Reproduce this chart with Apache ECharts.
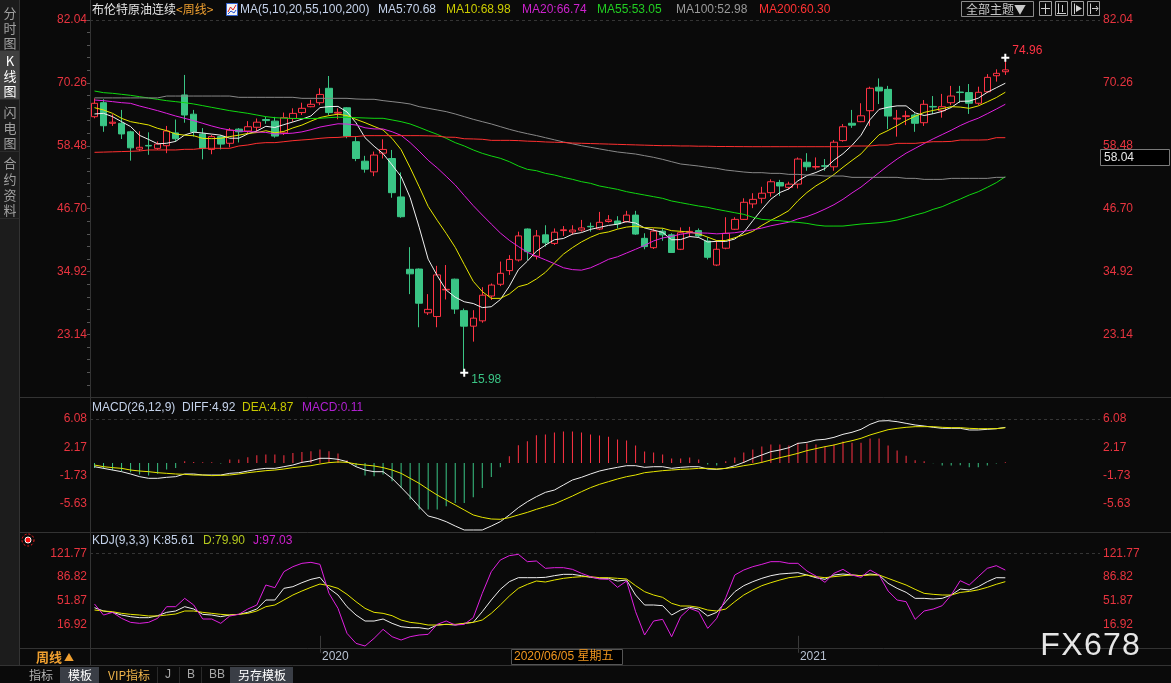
<!DOCTYPE html>
<html><head><meta charset="utf-8">
<script src="https://cdn.jsdelivr.net/npm/echarts@6/dist/echarts.min.js"></script>
<style>html,body{margin:0;padding:0;background:#0a0a0a;width:1171px;height:683px;overflow:hidden}#c{width:1171px;height:683px}</style>
</head><body><div id="c"></div><script>
const categories = ['2019-07-12','2019-07-19','2019-07-26','2019-08-02','2019-08-09','2019-08-16','2019-08-23','2019-08-30','2019-09-06','2019-09-13','2019-09-20','2019-09-27','2019-10-04','2019-10-11','2019-10-18','2019-10-25','2019-11-01','2019-11-08','2019-11-15','2019-11-22','2019-11-29','2019-12-06','2019-12-13','2019-12-20','2019-12-27',
'2020-01-03','2020-01-10','2020-01-17','2020-01-24','2020-01-31','2020-02-07','2020-02-14','2020-02-21','2020-02-28','2020-03-06','2020-03-13','2020-03-20','2020-03-27','2020-04-03','2020-04-10','2020-04-17','2020-04-24','2020-05-01','2020-05-08','2020-05-15','2020-05-22','2020-05-29','2020-06-05','2020-06-12','2020-06-19','2020-06-26','2020-07-03','2020-07-10','2020-07-17','2020-07-24','2020-07-31','2020-08-07','2020-08-14','2020-08-21','2020-08-28','2020-09-04','2020-09-11','2020-09-18','2020-09-25','2020-10-02','2020-10-09','2020-10-16','2020-10-23','2020-10-30','2020-11-06','2020-11-13','2020-11-20','2020-11-27','2020-12-04','2020-12-11','2020-12-18','2020-12-25','2020-12-31',
'2021-01-08','2021-01-15','2021-01-22','2021-01-29','2021-02-05','2021-02-12','2021-02-19','2021-02-26','2021-03-05','2021-03-12','2021-03-19','2021-03-26','2021-04-02','2021-04-09','2021-04-16','2021-04-23','2021-04-30','2021-05-07','2021-05-14','2021-05-21','2021-05-28','2021-06-04','2021-06-11','2021-06-18'];

const opens = [63.93,66.55,62.7,62.7,61.1,57.85,58.55,58.0,58.5,60.9,
68.0,64.4,60.7,57.8,60.2,58.95,61.6,61.25,61.95,63.4,
63.1,60.9,63.6,64.7,65.8,66.55,69.25,64.6,65.6,59.25,
55.6,53.6,57.1,56.1,48.9,35.35,35.4,27.2,26.5,31.5,
33.5,27.6,24.7,25.7,30.35,32.55,35.1,37.1,42.9,37.8,
41.8,40.2,42.6,42.35,42.7,43.4,42.9,44.3,44.4,44.3,
45.5,41.15,39.4,42.5,41.8,39.1,42.3,42.6,40.65,36.15,
39.3,42.85,44.7,47.6,48.65,49.7,51.6,50.7,51.3,55.4,
54.5,54.75,54.55,59.45,62.7,63.0,65.05,69.45,69.05,63.5,
63.95,64.25,62.8,65.85,65.05,66.55,68.55,68.45,66.45,68.6,
71.6,72.35];
const closes = [66.44,62.24,62.9,60.7,58.1,58.2,58.45,58.8,61.25,59.8,
64.25,61.1,58.0,60.2,58.8,61.4,61.1,62.05,62.9,63.2,
60.3,63.75,64.55,65.5,66.25,68.1,64.7,64.75,60.3,56.1,
54.1,56.75,57.8,49.7,45.2,34.5,29.0,27.85,34.3,31.6,
27.9,24.7,26.2,30.5,32.4,34.6,37.2,41.6,38.65,41.6,
40.3,42.3,42.75,42.7,43.1,43.3,44.15,44.6,43.85,45.5,
41.95,39.6,42.5,41.8,38.5,42.2,42.45,41.6,37.6,39.1,
42.1,44.7,47.9,48.45,49.6,51.75,50.95,51.3,56.0,54.55,
54.6,54.65,59.15,62.05,62.35,64.1,69.25,68.75,64.05,63.65,
64.1,62.7,66.25,65.75,65.8,67.8,68.45,66.45,68.5,71.3,
72.05,72.7];
const highs = [67.37,67.2,64.4,65.2,61.3,61.2,61.0,59.3,62.2,63.4,
71.75,65.2,61.8,60.5,60.5,61.8,61.8,63.1,63.6,63.9,
63.9,64.7,65.5,66.55,67.1,69.25,71.55,65.5,65.7,60.2,
56.6,57.4,59.7,57.7,53.5,39.5,35.5,30.7,36.0,36.15,
33.6,28.0,27.7,32.0,32.7,36.8,38.0,42.4,43.0,42.7,
43.6,43.0,43.45,43.6,44.6,44.1,46.1,45.5,45.3,46.3,
46.3,42.1,43.0,43.0,42.1,43.2,43.3,43.0,41.35,40.8,
45.1,45.1,48.65,49.6,50.8,52.2,52.1,51.75,56.3,57.1,
56.3,56.0,59.55,62.55,65.2,66.45,69.55,71.1,69.7,65.2,
65.05,64.55,67.05,67.8,68.2,69.7,69.7,70.05,69.55,71.9,
72.8,74.96];
const lows = [63.63,61.1,62.2,59.75,55.7,57.5,56.8,57.7,57.1,59.25,
62.8,60.2,55.95,56.9,57.8,58.2,59.1,60.7,61.1,62.6,
60.0,60.5,63.0,64.25,65.7,66.1,64.25,63.45,59.9,55.6,
53.45,52.8,56.1,48.75,45.0,30.7,24.5,26.8,24.5,29.7,
27.0,15.98,21.8,25.35,29.6,32.2,34.3,36.8,37.1,37.2,
39.6,39.9,41.6,41.8,42.4,42.4,42.7,44.1,43.0,44.1,
41.8,39.1,39.15,40.7,38.4,38.95,41.35,41.3,37.2,35.95,
39.1,42.7,44.6,46.8,47.7,48.95,49.1,50.3,50.5,53.8,
54.05,53.8,53.8,59.25,61.85,62.9,62.2,66.3,61.6,60.2,
62.35,61.1,62.2,64.45,63.75,66.1,66.55,64.45,66.1,68.4,
70.5,71.75];

const ma5 = [64.44,64.56,63.94,63.00,62.08,60.43,59.67,58.85,58.96,59.30,
60.51,61.04,60.88,60.67,60.47,59.90,59.90,60.71,61.25,62.13,
61.91,62.44,62.94,63.46,64.07,65.63,65.82,65.86,64.82,62.79,
59.99,58.40,57.01,54.89,52.71,48.79,43.24,37.25,34.17,31.45,
30.13,29.27,28.94,28.18,28.34,29.68,32.18,35.26,36.89,38.73,
39.87,40.89,41.12,41.93,42.23,42.83,43.20,43.57,43.80,44.28,
44.01,43.10,42.68,42.27,40.87,40.92,41.49,41.31,40.47,40.59,
40.57,41.02,42.28,44.45,46.55,48.48,49.73,50.41,51.92,52.91,
53.48,54.22,55.79,57.00,58.56,60.46,63.38,65.30,65.70,65.96,
65.96,64.65,64.15,64.49,64.92,65.66,66.81,66.85,67.40,68.50,
69.35,70.20];
const ma10 = [65.62,65.19,64.56,63.62,63.00,62.69,62.38,61.75,61.32,60.69,
60.47,60.36,59.87,59.82,59.89,60.21,60.47,60.80,60.96,61.30,
60.91,61.17,61.83,62.36,63.10,63.77,64.13,64.40,64.14,63.43,
62.81,62.11,61.44,59.86,57.75,54.39,50.82,47.13,44.53,42.08,
39.46,36.26,33.10,31.18,29.90,29.91,30.73,32.10,32.54,33.54,
34.78,36.54,38.19,39.41,40.48,41.35,42.05,42.35,42.87,43.26,
43.42,43.15,43.13,43.04,42.58,42.47,42.30,42.00,41.37,40.73,
40.75,41.26,41.80,42.46,43.57,44.53,45.38,46.35,48.19,49.73,
50.98,51.98,53.10,54.46,55.74,56.97,58.80,60.55,61.35,62.26,
63.21,64.02,64.73,65.10,65.44,65.81,65.73,65.50,65.95,66.71,
67.51,68.51];
const ma20 = [67.06,66.93,66.75,66.56,66.43,65.93,65.50,65.06,64.56,64.06,
63.62,63.19,62.69,62.19,61.75,61.44,61.25,61.15,61.05,60.99,
60.69,60.76,60.85,61.09,61.49,61.99,62.30,62.60,62.55,62.37,
61.86,61.64,61.63,61.11,60.43,59.08,57.48,55.77,54.34,52.76,
51.14,49.18,47.27,45.52,43.82,42.15,40.77,39.62,38.53,37.81,
37.12,36.40,35.64,35.29,35.19,35.63,36.39,37.22,37.70,38.40,
39.10,39.84,40.66,41.22,41.53,41.91,42.17,42.17,42.12,41.99,
42.08,42.20,42.46,42.75,43.07,43.50,43.84,44.17,44.78,45.23,
45.86,46.62,47.45,48.46,49.65,50.75,52.09,53.45,54.77,56.00,
57.10,58.00,58.91,59.78,60.59,61.39,62.27,63.02,63.65,64.49,
65.36,66.26];
const ma55 = [68.74,68.43,68.31,68.12,67.93,67.68,67.43,67.18,66.93,66.75,
66.56,66.31,66.00,65.68,65.37,65.06,64.81,64.56,64.25,63.94,
63.75,63.65,63.60,63.60,63.60,63.63,63.75,63.85,63.80,63.75,
63.69,63.63,63.63,63.32,63.00,62.57,61.94,61.26,60.63,59.88,
59.07,58.45,57.70,57.07,56.57,56.14,55.51,54.70,54.07,53.82,
53.32,53.01,52.57,52.20,51.76,51.45,50.95,50.64,50.32,49.89,
49.57,49.26,48.95,48.64,48.14,47.83,47.51,47.20,46.95,46.58,
46.27,45.95,45.64,45.10,44.70,44.58,44.45,44.27,44.14,43.95,
43.64,43.45,43.45,43.45,43.64,43.83,43.95,44.08,44.27,44.58,
45.02,45.51,45.95,46.58,47.08,47.82,48.51,49.26,49.88,50.70,
51.57,52.69];
const ma100 = [67.45,67.45,67.45,67.45,67.45,67.45,67.45,67.45,67.80,67.80,
67.80,67.80,67.80,67.80,67.80,67.80,67.56,67.56,67.56,67.56,
67.56,67.56,67.56,67.37,67.37,67.37,67.37,67.37,67.37,67.25,
67.19,67.19,66.94,66.75,66.56,66.31,65.81,65.50,65.19,64.88,
64.44,63.94,63.44,63.00,62.57,62.07,61.57,61.13,60.75,60.40,
60.00,59.60,59.20,58.85,58.50,58.20,57.90,57.60,57.32,57.13,
56.94,56.63,56.32,55.94,55.50,55.07,54.88,54.69,54.44,54.26,
53.94,53.76,53.57,53.44,53.45,53.32,53.32,53.13,53.13,53.00,
53.00,52.82,52.82,52.82,52.57,52.57,52.57,52.57,52.57,52.57,
52.38,52.38,52.19,52.19,52.19,52.38,52.38,52.38,52.38,52.38,
52.57,52.57];
const ma200 = [57.26,57.30,57.35,57.40,57.45,57.51,57.70,57.70,57.70,57.70,
57.82,57.82,58.01,58.01,58.01,58.01,58.44,58.63,58.94,59.07,
59.07,59.25,59.44,59.57,59.69,59.88,60.01,60.05,60.20,60.20,
60.38,60.38,60.38,60.38,60.38,60.38,60.38,60.35,60.30,60.10,
60.07,59.80,59.76,59.70,59.50,59.50,59.50,59.45,59.35,59.30,
59.20,59.15,59.10,59.00,58.95,58.90,58.85,58.80,58.75,58.70,
58.65,58.60,58.55,58.50,58.50,58.45,58.45,58.40,58.40,58.35,
58.35,58.33,58.32,58.31,58.31,58.31,58.31,58.31,58.31,58.31,
58.31,58.31,58.31,58.31,58.44,58.44,58.44,58.62,58.62,58.94,
58.94,58.94,59.10,59.25,59.25,59.30,59.56,59.56,59.56,59.60,
60.00,60.00];

const macdHist = [-0.69,-0.83,-1.01,-1.15,-1.29,-1.61,-1.75,-1.48,-0.92,-0.69,
0.23,0.14,0.09,0.09,-0.09,0.46,0.46,0.78,1.06,1.15,
1.15,1.06,1.38,1.52,1.61,1.85,1.61,1.29,0.37,-0.46,
-1.75,-1.85,-1.61,-2.54,-3.46,-5.07,-6.46,-6.46,-6.46,-6.00,
-5.54,-5.54,-4.75,-3.46,-1.94,-0.60,0.92,2.44,3.00,3.83,
3.92,4.20,4.34,4.34,4.20,3.92,3.78,3.64,3.23,3.09,
2.40,1.57,1.43,1.15,0.60,0.60,0.74,0.46,-0.23,-0.37,
0.23,0.74,1.43,1.85,2.26,2.54,2.54,2.40,2.81,2.68,
2.54,2.26,2.54,2.95,2.81,2.81,3.37,3.37,2.40,1.71,
1.01,0.37,0.23,-0.05,-0.37,-0.37,-0.32,-0.60,-0.60,-0.37,
-0.09,0.11];
const diff = [-0.52,-0.75,-0.98,-1.21,-1.53,-1.90,-2.13,-2.13,-1.99,-1.90,
-1.53,-1.53,-1.67,-1.67,-1.67,-1.44,-1.35,-1.12,-0.89,-0.75,
-0.75,-0.52,-0.29,0.08,0.27,0.64,0.64,0.50,0.18,-0.52,
-0.98,-1.21,-1.21,-2.13,-3.38,-4.67,-6.05,-7.34,-7.67,-8.13,
-8.73,-9.28,-9.28,-9.28,-8.73,-8.13,-7.20,-6.19,-5.36,-4.67,
-4.07,-3.75,-3.05,-2.36,-1.99,-1.53,-1.12,-0.84,-0.61,-0.38,
-0.38,-0.61,-0.52,-0.52,-0.75,-0.61,-0.52,-0.52,-0.84,-0.89,
-0.75,-0.38,0.08,0.64,1.10,1.56,1.79,2.11,2.71,2.85,
3.17,3.27,3.54,3.96,4.24,4.65,5.34,5.80,5.85,5.71,
5.48,5.25,5.11,4.93,4.79,4.79,4.79,4.56,4.56,4.65,
4.74,4.92];
const dea = [-0.29,-0.52,-0.65,-0.75,-0.98,-1.12,-1.21,-1.35,-1.44,-1.53,
-1.58,-1.67,-1.67,-1.76,-1.72,-1.67,-1.53,-1.35,-1.21,-1.07,
-0.98,-0.84,-0.65,-0.52,-0.38,-0.15,0.04,0.13,0.08,-0.15,
-0.29,-0.42,-0.65,-0.98,-1.44,-2.13,-2.82,-3.65,-4.44,-5.13,
-5.82,-6.51,-7.20,-7.53,-7.76,-7.80,-7.57,-7.20,-6.84,-6.42,
-6.05,-5.68,-5.13,-4.58,-3.98,-3.42,-2.96,-2.59,-2.22,-1.90,
-1.67,-1.35,-1.21,-1.07,-0.98,-0.89,-0.84,-0.75,-0.75,-0.84,
-0.75,-0.61,-0.38,-0.19,0.08,0.41,0.73,1.01,1.33,1.70,
1.98,2.25,2.48,2.81,3.08,3.41,3.87,4.24,4.60,4.79,
4.93,5.02,5.02,5.02,4.93,4.88,4.88,4.79,4.74,4.74,
4.74,4.87];

const kLine = [41.49,36.57,34.60,30.66,28.20,26.72,26.72,29.67,34.60,36.57,
42.97,39.52,31.65,30.66,28.20,30.66,31.65,34.60,39.52,52.81,
52.81,70.04,72.50,78.40,83.33,86.28,70.04,60.19,42.97,30.66,
21.80,21.80,24.75,18.36,13.43,11.96,11.96,9.99,15.90,16.88,
15.90,18.36,19.83,35.58,52.81,68.56,79.88,85.79,85.79,85.79,
86.28,88.74,90.71,90.71,88.74,86.28,84.80,84.80,80.87,82.34,
60.19,45.43,45.43,44.44,30.66,38.04,41.98,39.52,29.19,34.60,
50.35,65.12,73.98,79.88,84.80,88.74,91.20,92.19,93.17,89.73,
85.79,83.33,89.73,91.20,89.73,88.74,91.20,89.73,77.42,70.04,
64.13,55.27,55.27,54.29,55.27,60.19,69.05,67.58,72.50,79.88,
85.79,85.61];
const dLine = [38.04,36.57,35.58,33.12,31.65,30.66,29.19,29.19,30.66,32.14,
36.57,36.57,34.60,33.12,31.65,30.66,31.65,33.12,36.57,42.97,
45.43,52.81,60.19,66.10,71.52,76.44,73.98,70.04,61.18,50.35,
40.51,34.60,33.12,29.67,23.28,19.83,18.36,15.90,15.90,16.88,
16.88,18.36,19.83,23.28,33.12,45.43,58.72,70.04,75.94,80.87,
79.40,82.34,84.80,86.28,87.27,87.27,85.79,85.79,84.80,83.82,
73.98,65.12,60.19,56.75,47.89,43.95,43.95,41.98,38.04,36.57,
39.52,50.35,60.19,67.58,73.98,78.40,82.34,85.79,87.27,89.73,
87.27,85.79,87.27,88.74,89.73,88.74,89.73,89.73,84.80,79.88,
74.96,68.56,62.65,61.18,60.19,60.19,64.00,65.50,67.80,71.50,
76.00,79.90];
const jLine = [46.90,30.66,34.60,25.74,19.83,18.36,19.83,25.74,42.97,42.97,
55.27,45.43,24.75,24.75,18.36,29.19,31.65,39.52,45.43,74.96,
71.02,94.65,102.03,106.95,108.43,105.48,62.65,40.51,3.59,-11.18,
-15.08,-3.79,9.50,-1.33,-6.25,-1.33,1.13,2.12,16.88,21.80,
15.90,16.88,26.72,62.65,94.65,111.87,118.27,120.24,109.42,110.40,
99.57,100.55,100.55,98.09,92.19,87.27,83.82,83.33,71.52,80.87,
35.58,1.13,21.80,24.26,-1.33,28.20,40.51,35.58,10.97,25.74,
56.26,89.73,97.11,102.03,105.48,109.42,109.42,106.95,106.95,95.63,
88.25,78.90,92.19,98.09,89.73,86.28,97.11,89.73,66.10,52.81,
50.35,24.26,36.57,39.52,44.44,60.19,81.36,74.96,87.27,99.57,
103.51,97.03];

const priceTicks = [23.14, 34.92, 46.70, 58.48, 70.26, 82.04];
const macdTicks = [-5.63, -1.73, 2.17, 6.08];
const kdjTicks = [16.92, 51.87, 86.82, 121.77];

const RED = '#ff3344', GREEN = '#3ac585', AXRED = '#e8343f';
const LAT = '"Liberation Sans","Noto Sans CJK SC",sans-serif';
const CJK = '"Noto Sans CJK SC","Liberation Sans",sans-serif';

const slots = categories.concat(['','','','','','','','','','']);
const yearStart = new Set();
for (let i = 1; i < categories.length; i++) {
  if (categories[i].slice(0,4) !== categories[i-1].slice(0,4)) yearStart.add(i);
}
function fmt(ticks) {
  return function (v) {
    for (const t of ticks) { if (Math.abs(t - v) < 0.05) return t.toFixed(2); }
    return '';
  };
}
function xax(g, showLabels) {
  return {
    type: 'category', gridIndex: g, data: slots, boundaryGap: true,
    axisLine: { show: false },
    axisTick: showLabels ? { show: true, alignWithLabel: true, length: 17, interval: (i) => yearStart.has(i), lineStyle: { color: '#3a3a3a' } } : { show: false },
    axisLabel: showLabels ? { show: true, interval: (i) => yearStart.has(i), formatter: (v) => v.slice(0,4), align: 'left', color: '#b8c2d2', fontSize: 12, fontFamily: 'Liberation Sans', margin: 3, padding: [0,0,0,2] } : { show: false },
    splitLine: { show: false }
  };
}
function yax(g, pos, min, max, interval, ticks, withTicks) {
  return {
    type: 'value', gridIndex: g, position: pos, min: min, max: max, interval: interval,
    splitLine: { show: false }, axisLine: { show: false },
    axisTick: withTicks ? { show: true, length: 3, lineStyle: { color: '#555' } } : { show: false },
    minorTick: withTicks ? { show: true, splitNumber: 5, length: 3, lineStyle: { color: '#555' } } : { show: false },
    axisLabel: { color: AXRED, fontSize: 12, fontFamily: 'Liberation Sans', margin: 3, formatter: fmt(ticks) }
  };
}
function line(name, data, color, xi, yi) {
  return { type: 'line', name: name, data: data, xAxisIndex: xi, yAxisIndex: yi, symbol: 'none', showSymbol: false, silent: true, lineStyle: { color: color, width: 1 }, z: 3 };
}
function topLine(v) {
  return { symbol: ['none','none'], silent: true, label: { show: false }, lineStyle: { color: '#353535', type: [3,3], width: 1 }, data: [{ yAxis: v }] };
}

const T = (text, x, y, fill, size, extra) => ({ type: 'text', silent: true, z: 10, style: Object.assign({ text: text, x: x, y: y, fill: fill, font: (size || 12) + 'px ' + LAT, textAlign: 'left', textVerticalAlign: 'middle', verticalAlign: 'middle' }, extra || {}) });
const L = (x1, y1, x2, y2, stroke) => ({ type: 'line', silent: true, z: 9, shape: { x1: x1, y1: y1, x2: x2, y2: y2 }, style: { stroke: stroke || '#333', lineWidth: 1 } });
const R = (x, y, w, h, fill, stroke) => ({ type: 'rect', silent: true, z: 8, shape: { x: x, y: y, width: w, height: h }, style: { fill: fill || 'none', stroke: stroke || 'none', lineWidth: 1 } });

const graphics = [
  R(0, 0, 19.5, 666, '#1c1c1c'),
  R(0, 50, 19.5, 49, '#404040'),
  L(19.5, 0, 19.5, 666), L(90.5, 0, 90.5, 666),
  L(0, 50.5, 19.5, 50.5, '#2c2c2c'), L(0, 99.5, 19.5, 99.5, '#2c2c2c'), L(0, 151.5, 19.5, 151.5, '#2c2c2c'), L(0, 218.5, 19.5, 218.5, '#2c2c2c'),
  L(20, 397.5, 1171, 397.5), L(20, 532.5, 1171, 532.5), L(20, 648.5, 1171, 648.5), L(0, 665.5, 1171, 665.5),
  // top right controls
  R(961.5, 1.5, 72, 15, 'none', '#8a8a8a'), T('全部主题▼', 966, 9.5, '#c8c8c8', 12, { font: '12px ' + CJK }),
  R(1039.5, 1.5, 12, 14, 'none', '#a0a0a0'), L(1045.5, 3.5, 1045.5, 14, '#cfcfcf'), L(1041, 8.5, 1050, 8.5, '#cfcfcf'),
  R(1055.5, 1.5, 12, 14, 'none', '#a0a0a0'), L(1058.5, 3.5, 1058.5, 14, '#cfcfcf'), L(1057, 13.5, 1066, 13.5, '#cfcfcf'), L(1062.5, 5, 1062.5, 12, '#cfcfcf'),
  R(1071.5, 1.5, 12, 14, 'none', '#a0a0a0'), L(1074.5, 3.5, 1074.5, 14, '#cfcfcf'), { type: 'polygon', silent: true, z: 10, shape: { points: [[1076, 5], [1082, 8.5], [1076, 12]] }, style: { fill: '#cfcfcf' } },
  R(1087.5, 1.5, 12, 14, 'none', '#a0a0a0'), L(1090.5, 3.5, 1090.5, 14, '#cfcfcf'), L(1092, 8.5, 1098, 8.5, '#cfcfcf'), L(1096, 6, 1098, 8.5, '#cfcfcf'), L(1096, 11, 1098, 8.5, '#cfcfcf'),
  // main legend
  T('布伦特原油连续', 92, 9.5, '#e6e6e6', 12, { font: '12px ' + CJK }),
  T('<周线>', 176, 9.5, '#f0a030', 12, { font: '12px ' + CJK }),
  R(226.5, 3.5, 11, 12, '#f2f2f2', '#3060d0'),
  { type: 'polyline', silent: true, z: 10, shape: { points: [[228, 12], [230.5, 7], [233, 10], [236, 5]] }, style: { stroke: '#e02020', lineWidth: 1, fill: 'none' } },
  { type: 'polyline', silent: true, z: 10, shape: { points: [[228, 14], [231, 11], [234, 13], [236, 10]] }, style: { stroke: '#2050d0', lineWidth: 1, fill: 'none' } },
  T('MA(5,10,20,55,100,200)', 240, 9.5, '#c4d2ea'),
  T('MA5:70.68', 378, 9.5, '#c4d2ea'),
  T('MA10:68.98', 446, 9.5, '#cccc00'),
  T('MA20:66.74', 522, 9.5, '#cc22cc'),
  T('MA55:53.05', 597, 9.5, '#22cc22'),
  T('MA100:52.98', 676, 9.5, '#9a9a9a'),
  T('MA200:60.30', 759, 9.5, '#ff3333'),
  // MACD legend
  T('MACD(26,12,9)', 92, 408, '#c4d2ea'),
  T('DIFF:4.92', 182, 408, '#c4d2ea'),
  T('DEA:4.87', 242, 408, '#c8c800'),
  T('MACD:0.11', 302, 408, '#b020d0'),
  // KDJ legend
  T('KDJ(9,3,3)', 92, 541, '#c4d2ea'),
  T('K:85.61', 153, 541, '#c4d2ea'),
  T('D:79.90', 203, 541, '#b4c81e'),
  T('J:97.03', 253, 541, '#d020d0'),
  { type: 'circle', silent: true, z: 10, shape: { cx: 28, cy: 540, r: 6 }, style: { fill: 'none', stroke: '#ff2020', lineWidth: 1, lineDash: [2, 2] } },
  { type: 'circle', silent: true, z: 11, shape: { cx: 28, cy: 540, r: 3 }, style: { fill: '#ff1010', stroke: '#ffffff', lineWidth: 1 } },
  // right value box
  R(1100.5, 149.5, 69, 16, '#000000', '#7a7a7a'), T('58.04', 1104, 157.5, '#e8e8e8'),
  // bottom row
  T('周线', 36, 657, '#f0a030', 13, { font: 'bold 13px ' + CJK }),
  T('▲', 64, 657, '#f0a030', 10, { font: '10px ' + CJK }),
  R(511.5, 649.5, 111, 15, '#000000', '#555555'),
  T(categories[47].replace(/-/g, '/') + ' 星期五', 514, 657, '#f0961e', 12, { font: '12px ' + LAT }),
  R(60, 667, 39, 16, '#3a3e46'), R(230, 667, 63, 16, '#3a3e46'),
  T('指标', 29, 675, '#b4b4b4', 12, { font: '12px ' + CJK }),
  T('模板', 68, 675, '#ffffff', 12, { font: '12px ' + CJK }),
  T('VIP指标', 108, 675, '#f0b44a', 12, { font: '12px ' + CJK }),
  T('J', 165, 675, '#a8a8a8'), T('B', 187, 675, '#a8a8a8'), T('BB', 209, 675, '#a8a8a8'),
  T('另存模板', 238, 675, '#ffffff', 12, { font: '12px ' + CJK }),
  L(157.5, 667, 157.5, 683, '#2a2a2a'), L(179.5, 667, 179.5, 683, '#2a2a2a'), L(201.5, 667, 201.5, 683, '#2a2a2a'),
  // watermark
  T('F', 1050, 646, '#e6e6e6', 32, { textAlign: 'center' }),
  T('X', 1072, 646, '#e6e6e6', 32, { textAlign: 'center' }),
  T('6', 1093, 646, '#e6e6e6', 32, { textAlign: 'center' }),
  T('7', 1112, 646, '#e6e6e6', 32, { textAlign: 'center' }),
  T('8', 1131, 646, '#e6e6e6', 32, { textAlign: 'center' })
];
const strip = [['分',13],['时',28],['图',43],['K',61],['线',76],['图',91],['闪',112],['电',128],['图',143],['合',163],['约',179],['资',195],['料',210]];
strip.forEach(function (s, i) {
  graphics.push(T(s[0], 10, s[1], (i >= 3 && i <= 5) ? '#ffffff' : '#a0a0a0', 13, { textAlign: 'center', font: '13px ' + CJK }));
});

const candleData = opens.map((o, i) => [o, closes[i], lows[i], highs[i]]);

const option = {
  backgroundColor: '#0a0a0a',
  animation: false,
  textStyle: { fontFamily: LAT },
  grid: [
    { left: 90, width: 1010, top: 20, height: 377.4 },
    { left: 90, width: 1010, top: 419, height: 112.8 },
    { left: 90, width: 1010, top: 553.3, height: 94.7 }
  ],
  xAxis: [xax(0, false), xax(1, false), xax(2, true)],
  yAxis: [
    yax(0, 'left', 11.36, 82.04, 11.78, priceTicks, true),
    yax(0, 'right', 11.36, 82.04, 11.78, priceTicks, false),
    yax(1, 'left', -9.53, 6.08, 3.9025, macdTicks, false),
    yax(1, 'right', -9.53, 6.08, 3.9025, macdTicks, false),
    yax(2, 'left', -18.03, 121.77, 34.95, kdjTicks, false),
    yax(2, 'right', -18.03, 121.77, 34.95, kdjTicks, false)
  ],
  series: [
    {
      type: 'candlestick', name: 'K', xAxisIndex: 0, yAxisIndex: 0, data: candleData, barWidth: 7, silent: true, z: 2,
      itemStyle: { color: '#0a0a0a', color0: GREEN, borderColor: RED, borderColor0: GREEN, borderWidth: 1 },
      markLine: topLine(82.04),
      markPoint: {
        symbol: 'path://M3,0H5V3H8V5H5V8H3V5H0V3H3Z', symbolSize: 8, silent: true,
        itemStyle: { color: '#ffffff' },
        label: { show: true, position: 'right', distance: 3, fontSize: 12, fontFamily: 'Liberation Sans', formatter: (p) => Number(p.value).toFixed(2) },
        data: [
          { coord: [41, lows[41]], value: lows[41], label: { color: GREEN, offset: [0, 7] } },
          { coord: [101, highs[101]], value: highs[101], label: { color: RED, offset: [0, -7] } }
        ]
      }
    },
    line('MA5', ma5, '#f0f0f0', 0, 0),
    line('MA10', ma10, '#e6e600', 0, 0),
    line('MA20', ma20, '#e020e0', 0, 0),
    line('MA55', ma55, '#10d810', 0, 0),
    line('MA100', ma100, '#888888', 0, 0),
    line('MA200', ma200, '#ff3030', 0, 0),
    {
      type: 'bar', name: 'MACD', xAxisIndex: 1, yAxisIndex: 2, barWidth: 1, silent: true,
      data: macdHist.map((v) => ({ value: v, itemStyle: { color: v >= 0 ? RED : GREEN } })),
      markLine: topLine(6.08)
    },
    line('DIFF', diff, '#eeeeee', 1, 2),
    line('DEA', dea, '#e6e600', 1, 2),
    Object.assign(line('K', kLine, '#eeeeee', 2, 4), { markLine: topLine(121.77) }),
    line('D', dLine, '#e6e600', 2, 4),
    line('J', jLine, '#e020e0', 2, 4)
  ],
  graphic: { elements: graphics }
};
const chart = echarts.init(document.getElementById('c'), null, { renderer: 'canvas', width: 1171, height: 683 });
chart.setOption(option);
</script></body></html>
